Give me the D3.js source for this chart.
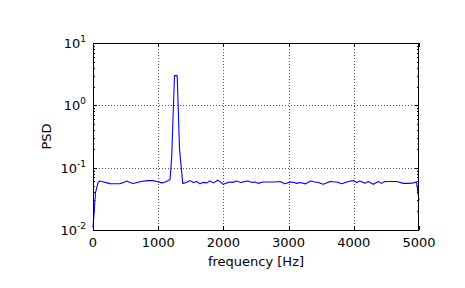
<!DOCTYPE html>
<html>
<head>
<meta charset="utf-8">
<script src="https://cdn.jsdelivr.net/npm/d3@7"></script>
<style>
  html, body { margin: 0; padding: 0; background: #fff; }
  svg text { font-family: "DejaVu Sans", sans-serif; font-size: 13px; fill: #000; }
</style>
</head>
<body>
<svg id="chart" width="465" height="288"></svg>
<script>
// frequency bins [Hz] and PSD values
const freqs = [0, 39, 78, 107, 160, 220, 260, 330, 414, 470, 517, 570, 613, 680, 740, 828, 920, 980,
  1054, 1110, 1150, 1181, 1207, 1250, 1291, 1327, 1376, 1430, 1488, 1538, 1590, 1641, 1687, 1744,
  1794, 1845, 1897, 1917, 1998, 2050, 2101, 2150, 2193, 2270, 2330, 2377, 2439, 2490, 2531, 2607,
  2700, 2791, 2868, 2945, 3021, 3080, 3129, 3175, 3260, 3340, 3400, 3456, 3532, 3635, 3737, 3814,
  3916, 3993, 4044, 4095, 4172, 4223, 4299, 4376, 4427, 4479, 4555, 4658, 4759, 4850, 4913, 4961, 5000];
const psd = [0.011, 0.04, 0.058, 0.061, 0.059, 0.057, 0.0555, 0.0553, 0.0555, 0.058, 0.061, 0.058, 0.0556, 0.058, 0.06, 0.062, 0.062, 0.06,
  0.057, 0.059, 0.062, 0.064, 0.15, 3.0, 3.0, 0.2, 0.056, 0.058, 0.062, 0.058, 0.06, 0.055, 0.058, 0.057,
  0.061, 0.057, 0.061, 0.063, 0.054, 0.057, 0.059, 0.058, 0.061, 0.058, 0.06, 0.061, 0.058, 0.059, 0.056, 0.059,
  0.059, 0.059, 0.06, 0.055, 0.059, 0.058, 0.056, 0.058, 0.055, 0.061, 0.059, 0.058, 0.054, 0.06, 0.059, 0.055,
  0.06, 0.062, 0.058, 0.061, 0.056, 0.06, 0.054, 0.06, 0.056, 0.06, 0.06, 0.06, 0.056, 0.056, 0.057, 0.059, 0.03];

const xTicks = [0, 1000, 2000, 3000, 4000, 5000];
const yTicks = [0.01, 0.1, 1, 10];
const yTickExp = ["-2", "-1", "0", "1"];

const mLeft = 93, mRight = 419, mTop = 43, mBottom = 230;

const svg = d3.select("#chart");

const x = d3.scaleLinear().domain([0, 5000]).range([mLeft, mRight]);
const y = d3.scaleLog().domain([0.01, 10]).range([mBottom, mTop]);

// minor log ticks 2..9 in each decade
const yMinor = [];
yTicks.slice(0, -1).forEach(d => {
  for (let k = 2; k <= 9; k++) yMinor.push(d * k);
});

// grid
const grid = svg.append("g")
  .attr("stroke", "#000")
  .attr("stroke-width", 0.7)
  .attr("stroke-dasharray", "1,2");
grid.selectAll(".gx")
  .data(xTicks.slice(1, -1))
  .join("line")
  .attr("x1", d => Math.round(x(d)) + 0.5)
  .attr("x2", d => Math.round(x(d)) + 0.5)
  .attr("y1", mTop).attr("y2", mBottom);
grid.selectAll(".gy")
  .data(yTicks.slice(1, -1))
  .join("line")
  .attr("y1", d => Math.round(y(d)) + 0.5)
  .attr("y2", d => Math.round(y(d)) + 0.5)
  .attr("x1", mLeft).attr("x2", mRight);

// the curve
const line = d3.line()
  .x((d, i) => x(freqs[i]))
  .y(d => y(d));
svg.append("path")
  .datum(psd)
  .attr("fill", "none")
  .attr("stroke", "#0000ff")
  .attr("stroke-width", 1.1)
  .attr("stroke-linejoin", "round")
  .attr("d", line);

// ticks (inward, all four sides)
function ticks(axis, tx, ty) {
  svg.append("g")
    .attr("transform", `translate(${tx},${ty})`)
    .call(axis)
    .call(g => g.select(".domain").remove())
    .call(g => g.selectAll("text").remove())
    .call(g => g.selectAll("line").attr("stroke", "#000").attr("shape-rendering", "crispEdges"));
}
ticks(d3.axisBottom(x).tickValues(xTicks).tickSizeInner(-4), 0, mBottom);
ticks(d3.axisTop(x).tickValues(xTicks).tickSizeInner(-4), 0, mTop);
ticks(d3.axisLeft(y).tickValues(yTicks).tickSizeInner(-4), mLeft, 0);
ticks(d3.axisRight(y).tickValues(yTicks).tickSizeInner(-4), mRight, 0);
ticks(d3.axisLeft(y).tickValues(yMinor).tickSizeInner(-2), mLeft, 0);
ticks(d3.axisRight(y).tickValues(yMinor).tickSizeInner(-2), mRight, 0);

// frame
svg.append("rect")
  .attr("x", mLeft + 0.5).attr("y", mTop + 0.5)
  .attr("width", mRight - mLeft - 1).attr("height", mBottom - mTop)
  .attr("fill", "none")
  .attr("stroke", "#000")
  .attr("stroke-width", 1);

// tick labels
svg.selectAll(".xl")
  .data(xTicks)
  .join("text")
  .attr("x", d => x(d))
  .attr("y", mBottom + 17)
  .attr("text-anchor", "middle")
  .text(d => d);

yTicks.forEach((d, i) => {
  const t = svg.append("text")
    .attr("x", 86)
    .attr("y", y(d) + 5)
    .attr("text-anchor", "end");
  t.append("tspan").text("10");
  t.append("tspan")
    .attr("dy", -6)
    .style("font-size", "9px")
    .text(yTickExp[i]);
});

// axis labels
svg.append("text")
  .attr("x", (mLeft + mRight) / 2)
  .attr("y", 266)
  .attr("text-anchor", "middle")
  .text("frequency [Hz]");

svg.append("text")
  .attr("transform", `translate(51,${(mTop + mBottom) / 2}) rotate(-90)`)
  .attr("text-anchor", "middle")
  .text("PSD");
</script>
</body>
</html>
